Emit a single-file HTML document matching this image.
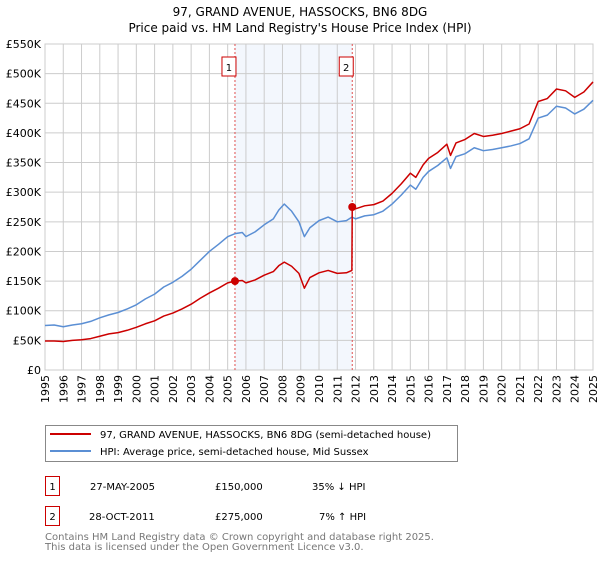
<!DOCTYPE html>
<html><head><meta charset="utf-8"><style>
body{margin:0;background:#fff;font-family:"DejaVu Sans","Liberation Sans",sans-serif;}
svg text{font-family:"DejaVu Sans","Liberation Sans",sans-serif;}
</style></head><body>
<svg id="c" width="600" height="560" viewBox="0 0 600 560" xmlns="http://www.w3.org/2000/svg">
<text x="300" y="16" text-anchor="middle" font-size="12">97, GRAND AVENUE, HASSOCKS, BN6 8DG</text>
<text x="300" y="32" text-anchor="middle" font-size="12">Price paid vs. HM Land Registry's House Price Index (HPI)</text>
<g id="plot"></g>
<rect x="45.5" y="425.5" width="412" height="36" fill="#fff" stroke="#888"/>
<line x1="50" y1="434" x2="91" y2="434" stroke="#cc0000" stroke-width="2"/>
<text x="100" y="438" font-size="10">97, GRAND AVENUE, HASSOCKS, BN6 8DG (semi-detached house)</text>
<line x1="50" y1="451" x2="91" y2="451" stroke="#5b8fd4" stroke-width="2"/>
<text x="100" y="455" font-size="10">HPI: Average price, semi-detached house, Mid Sussex</text>
<g>
<rect x="45.5" y="476.5" width="14" height="19" fill="#fff" stroke="#cc0000"/>
<text x="52.5" y="490" font-size="10" text-anchor="middle">1</text>
<text x="90" y="490" font-size="10">27-MAY-2005</text>
<text x="215" y="490" font-size="10">£150,000</text>
<text x="312" y="490" font-size="10">35% ↓ HPI</text></g>
<g>
<rect x="45.5" y="506.5" width="14" height="19" fill="#fff" stroke="#cc0000"/>
<text x="52.5" y="520" font-size="10" text-anchor="middle">2</text>
<text x="89" y="520" font-size="10">28-OCT-2011</text>
<text x="215" y="520" font-size="10">£275,000</text>
<text x="319" y="520" font-size="10">7% ↑ HPI</text></g>
<text x="45" y="540" font-size="10" fill="#777">Contains HM Land Registry data © Crown copyright and database right 2025.</text>
<text x="45" y="550" font-size="10" fill="#777">This data is licensed under the Open Government Licence v3.0.</text>
</svg>
<script>
const hpiYears=[1995,1995.5,1996,1996.5,1997,1997.5,1998,1998.5,1999,1999.5,2000,2000.5,2001,2001.5,2002,2002.5,2003,2003.5,2004,2004.5,2005,2005.4,2005.8,2006,2006.5,2007,2007.5,2007.8,2008.1,2008.5,2008.9,2009.2,2009.5,2010,2010.5,2011,2011.5,2011.8,2012,2012.5,2013,2013.5,2014,2014.5,2015,2015.3,2015.7,2016,2016.5,2017,2017.2,2017.5,2018,2018.5,2019,2019.5,2020,2020.5,2021,2021.5,2022,2022.5,2023,2023.5,2024,2024.5,2025];
const hpiValues=[75,76,73,76,78,82,88,93,97,103,110,120,128,140,148,158,170,185,200,212,225,230,232,225,233,245,255,270,280,268,250,225,240,252,258,250,252,258,255,260,262,268,280,295,312,305,325,335,345,358,340,360,365,375,370,372,375,378,382,390,425,430,445,442,432,440,455];
const redYears=[1995,1995.5,1996,1996.5,1997,1997.5,1998,1998.5,1999,1999.5,2000,2000.5,2001,2001.5,2002,2002.5,2003,2003.5,2004,2004.5,2005,2005.4,2005.8,2006,2006.5,2007,2007.5,2007.8,2008.1,2008.5,2008.9,2009.2,2009.5,2010,2010.5,2011,2011.5,2011.8,2011.82,2012,2012.5,2013,2013.5,2014,2014.5,2015,2015.3,2015.7,2016,2016.5,2017,2017.2,2017.5,2018,2018.5,2019,2019.5,2020,2020.5,2021,2021.5,2022,2022.5,2023,2023.5,2024,2024.5,2025];
const redValues=[49,49,48,50,51,53,57,61,63,67,72,78,83,91,96,103,111,121,130,138,147,150,151,147,152,160,166,176,182,175,163,138,156,164,168,163,164,168,275,272,277,279,285,298,314,332,325,346,357,367,381,362,383,389,399,394,396,399,403,407,415,453,458,474,471,460,469,486];
const saleYears=[2005.4,2011.82];
const saleValues=[150,275];
const saleLabels=["1","2"];
const yTicks=[0,50,100,150,200,250,300,350,400,450,500,550];
const yTickLabels=["£0","£50K","£100K","£150K","£200K","£250K","£300K","£350K","£400K","£450K","£500K","£550K"];
const xTicks=[1995,1996,1997,1998,1999,2000,2001,2002,2003,2004,2005,2006,2007,2008,2009,2010,2011,2012,2013,2014,2015,2016,2017,2018,2019,2020,2021,2022,2023,2024,2025];

const L=45,R=593,T=44,B=370,NS='http://www.w3.org/2000/svg';
const xs=y=>L+(y-1995)/30*(R-L);
const ys=v=>B-v/550*(B-T);
const g=document.getElementById('plot');
function el(tag,at,parent){const e=document.createElementNS(NS,tag);for(const k in at)e.setAttribute(k,at[k]);(parent||g).appendChild(e);return e;}
const sh=el('rect',{x:xs(saleYears[0]),y:T,width:xs(saleYears[1])-xs(saleYears[0]),height:B-T,fill:'#eef3fc',opacity:0.7});


yTicks.forEach((v,i)=>{
  const ln=el('line',{x1:L,x2:R,y1:ys(v),y2:ys(v),stroke:'#ccc'});
  
  
  const t=el('text',{x:L-4,y:ys(v)+4,'text-anchor':'end','font-size':11});
  t.textContent=yTickLabels[i];
  
  
});
xTicks.forEach(y=>{
  const ln=el('line',{x1:xs(y),x2:xs(y),y1:T,y2:B,stroke:'#ccc'});
  
  
  const t=el('text',{x:0,y:0,'text-anchor':'end','font-size':11,transform:`translate(${xs(y)+4},${B+5}) rotate(-90)`});
  t.textContent=y;
  
  
});
const fr=el('rect',{x:L,y:T,width:R-L,height:B-T,fill:'none',stroke:'#ccc'});


saleYears.forEach((y,i)=>{
  const ln=el('line',{x1:xs(y),x2:xs(y),y1:T,y2:B,stroke:'#e05050','stroke-dasharray':'2,2'});
  
  
  const bx=el('rect',{x:xs(y)-13,y:57,width:14,height:19,fill:'#fff',stroke:'#cc0000'});
  
  
  const t=el('text',{x:xs(y)-6,y:71,'text-anchor':'middle','font-size':10});
  t.textContent=saleLabels[i];
  
  
});
function line(xa,va,color,name){
  const p=el('polyline',{points:xa.map((y,i)=>xs(y)+','+ys(va[i])).join(' '),fill:'none',stroke:color,'stroke-width':1.5,'stroke-linejoin':'round'});
  
  
}
line(hpiYears,hpiValues,'#5b8fd4','hpi-line');
line(redYears,redValues,'#cc0000','property-price-line');
saleYears.forEach((y,i)=>{
  const c=el('circle',{cx:xs(y),cy:ys(saleValues[i]),r:4,fill:'#cc0000'});
  
  
});
</script>
</body></html>
